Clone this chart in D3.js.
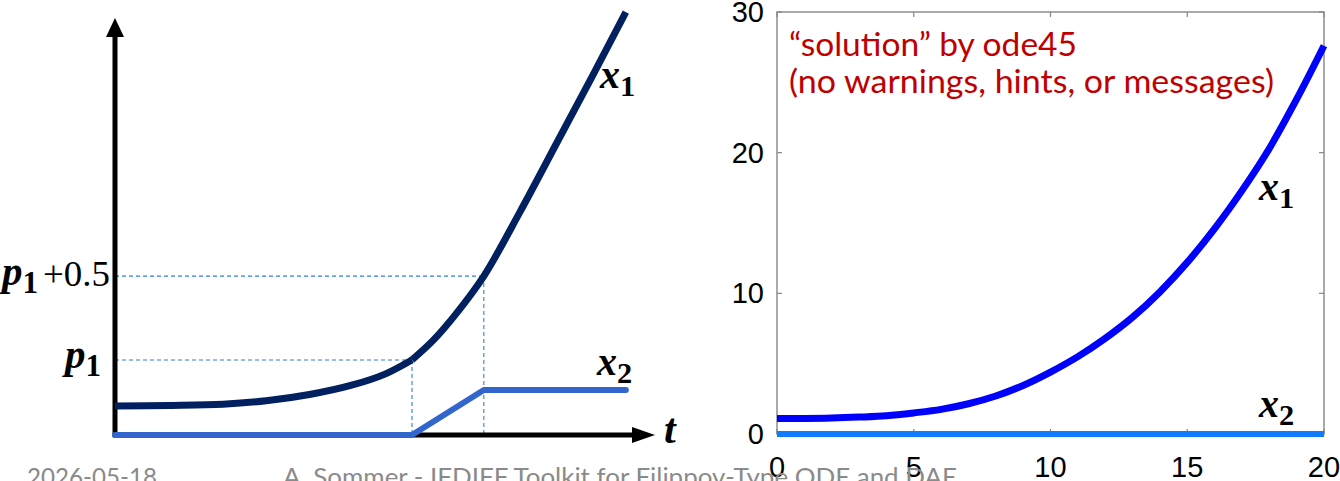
<!DOCTYPE html>
<html>
<head>
<meta charset="utf-8">
<script src="https://cdn.jsdelivr.net/npm/d3@7"></script>
<style>
  html, body { margin: 0; padding: 0; background: #fff; }
  svg { display: block; }
</style>
</head>
<body>
<svg id="chart" width="1340" height="481"></svg>
<script>
// ---- Left panel: schematic trajectory (abstract units, 0..100 on both axes) ----
const schemT1 = [0, 10, 20, 28, 36, 44, 50, 55];              // before kink
const schemX1a = [6.95, 7.1, 7.4, 8.2, 9.7, 12.0, 14.6, 18];
const schemT2 = [55, 59, 63, 68.3, 75, 82, 88.5, 94.6];       // after kink
const schemX1b = [18, 22.8, 28.8, 38.1, 53.5, 70.5, 86.3, 101.4];
const schemT3 = [0, 55, 68.3, 94.6];
const schemX2 = [0, 0, 10.8, 10.8];
const levelP1 = 18;        // p1
const levelP1half = 38.1;  // p1 + 0.5
const kinkA = 55, kinkB = 68.3;

// ---- Right panel: ode45 output ----
const odeT = [0,1,2,3,4,5,6,7,8,9,10,11,12,13,14,15,16,17,18,19,20];
const odeX1 = [1.1,1.1,1.13,1.2,1.3,1.5,1.75,2.15,2.7,3.45,4.4,5.5,6.8,8.3,10.1,12.2,14.6,17.3,20.3,23.8,27.6];
const odeX2 = [0,0,0,0,0,0,0,0,0,0,0,0,0,0,0,0,0,0,0,0,0];
const xTicks = [0, 5, 10, 15, 20];
const yTicks = [0, 10, 20, 30];

const svg = d3.select("#chart");

// ================= LEFT PANEL =================
const lx = d3.scaleLinear().domain([0, 100]).range([115, 655]);
const ly = d3.scaleLinear().domain([0, 100]).range([435, 18]);
const L = svg.append("g");

// dashed guide lines
const dashC = "#2f7fd6";
const guides = [
  [[0, levelP1], [kinkA, levelP1]],
  [[kinkA, levelP1], [kinkA, 0]],
  [[0, levelP1half], [kinkB, levelP1half]],
  [[kinkB, levelP1half], [kinkB, 0]]
];
guides.forEach(g => {
  L.append("line")
    .attr("x1", lx(g[0][0])).attr("y1", ly(g[0][1]))
    .attr("x2", lx(g[1][0])).attr("y2", ly(g[1][1]))
    .attr("stroke", dashC).attr("stroke-width", 1.1)
    .attr("stroke-dasharray", "4,3");
});

// axes with arrowheads
L.append("line").attr("x1", lx(0)).attr("y1", ly(0) + 2).attr("x2", lx(0)).attr("y2", ly(100) + 16)
  .attr("stroke", "#000").attr("stroke-width", 5);
L.append("line").attr("x1", lx(0) - 2).attr("y1", ly(0)).attr("x2", lx(100) - 20).attr("y2", ly(0))
  .attr("stroke", "#000").attr("stroke-width", 5);
L.append("path")
  .attr("d", `M${lx(0)},${ly(100)} L${lx(0) - 9},${ly(100) + 19} L${lx(0) + 9},${ly(100) + 19} Z`)
  .attr("fill", "#000");
L.append("path")
  .attr("d", `M${lx(100)},${ly(0)} L${lx(100) - 23},${ly(0) - 8} L${lx(100) - 23},${ly(0) + 8} Z`)
  .attr("fill", "#000");

// x2 schematic
const linL = d3.line().x(d => lx(d[0])).y(d => ly(d[1]));
L.append("path")
  .datum(d3.zip(schemT3, schemX2))
  .attr("d", linL)
  .attr("fill", "none").attr("stroke", "#3366cc").attr("stroke-width", 6)
  .attr("stroke-linecap", "round").attr("stroke-linejoin", "round");

// x1 schematic (smooth pieces joined at the kink)
const smoothL = d3.line().x(d => lx(d[0])).y(d => ly(d[1])).curve(d3.curveCatmullRom.alpha(0.5));
[[schemT1, schemX1a], [schemT2, schemX1b]].forEach(([t, v]) => {
  L.append("path")
    .datum(d3.zip(t, v))
    .attr("d", smoothL)
    .attr("fill", "none").attr("stroke", "#002060").attr("stroke-width", 7)
    .attr("stroke-linejoin", "round");
});

// math labels: bold italic symbol with a subscript digit
const mathFont = "'Liberation Serif', 'DejaVu Serif', serif";
function mathLabel(g, x, y, base, sub, size) {
  const t = g.append("text").attr("x", x).attr("y", y)
    .attr("font-family", mathFont).attr("font-size", size).attr("fill", "#000");
  t.append("tspan").text(base).attr("font-style", "italic").attr("font-weight", "bold");
  if (sub) t.append("tspan").text(sub).attr("font-weight", "bold")
    .attr("font-size", size * 0.76).attr("dy", size * 0.2);
  return t;
}
mathLabel(L, 600, 88, "x", "1", 40);
mathLabel(L, 597, 375, "x", "2", 40);
mathLabel(L, 664, 443, "t", null, 42);
mathLabel(L, 65, 368, "p", "1", 41);
mathLabel(L, 2, 285, "p", "1", 41);
L.append("text").attr("x", 43).attr("y", 286)
  .attr("font-family", mathFont).attr("font-size", 35)
  .attr("textLength", 67).attr("lengthAdjust", "spacingAndGlyphs")
  .attr("fill", "#000").text("+0.5");

// ================= RIGHT PANEL =================
const rx = d3.scaleLinear().domain([0, 20]).range([777, 1324]);
const ry = d3.scaleLinear().domain([0, 30]).range([434, 12]);
const R = svg.append("g");
const frameC = "#868686";

R.append("rect").attr("x", rx(0)).attr("y", ry(30))
  .attr("width", rx(20) - rx(0)).attr("height", ry(0) - ry(30))
  .attr("fill", "none").attr("stroke", frameC).attr("stroke-width", 1.4);

const tickLen = 5;
xTicks.forEach(v => {
  R.append("line").attr("x1", rx(v)).attr("x2", rx(v)).attr("y1", ry(0)).attr("y2", ry(0) - tickLen)
    .attr("stroke", frameC).attr("stroke-width", 1.2);
  R.append("line").attr("x1", rx(v)).attr("x2", rx(v)).attr("y1", ry(30)).attr("y2", ry(30) + tickLen)
    .attr("stroke", frameC).attr("stroke-width", 1.2);
});
yTicks.forEach(v => {
  R.append("line").attr("x1", rx(0)).attr("x2", rx(0) + tickLen).attr("y1", ry(v)).attr("y2", ry(v))
    .attr("stroke", frameC).attr("stroke-width", 1.2);
  R.append("line").attr("x1", rx(20)).attr("x2", rx(20) - tickLen).attr("y1", ry(v)).attr("y2", ry(v))
    .attr("stroke", frameC).attr("stroke-width", 1.2);
});

const tickFont = "'Liberation Sans', Arial, sans-serif";
R.selectAll(".ylab").data(yTicks).enter().append("text")
  .attr("x", rx(0) - 13).attr("y", d => ry(d) + 10)
  .attr("text-anchor", "end").attr("font-family", tickFont).attr("font-size", 29)
  .attr("fill", "#000").text(d => d);
R.selectAll(".xlab").data(xTicks).enter().append("text")
  .attr("x", d => rx(d)).attr("y", ry(0) + 43)
  .attr("text-anchor", "middle").attr("font-family", tickFont).attr("font-size", 29)
  .attr("fill", "#000").text(d => d);

// ode45 curves
const lineR = d3.line().x(d => rx(d[0])).y(d => ry(d[1])).curve(d3.curveCatmullRom.alpha(0.5));
R.append("path").datum(d3.zip(odeT, odeX2)).attr("d", lineR)
  .attr("fill", "none").attr("stroke", "#0f7bff").attr("stroke-width", 6);
R.append("path").datum(d3.zip(odeT, odeX1)).attr("d", lineR)
  .attr("fill", "none").attr("stroke", "#0000ff").attr("stroke-width", 7);

mathLabel(R, 1259, 200, "x", "1", 40);
mathLabel(R, 1259, 417, "x", "2", 40);

// annotation
const noteFont = "Lato, 'Open Sans', sans-serif";
R.append("text").attr("x", 789).attr("y", 56).attr("font-family", noteFont).attr("font-size", 32)
  .attr("textLength", 288).attr("lengthAdjust", "spacingAndGlyphs")
  .attr("fill", "#c00000").text("\u201Csolution\u201D by ode45");
R.append("text").attr("x", 789).attr("y", 93).attr("font-family", noteFont).attr("font-size", 32)
  .attr("textLength", 485).attr("lengthAdjust", "spacingAndGlyphs")
  .attr("fill", "#c00000").text("(no warnings, hints, or messages)");

// ================= FOOTER =================
const footFont = "Lato, 'Open Sans', sans-serif";
svg.append("text").attr("x", 27).attr("y", 486).attr("font-family", footFont).attr("font-size", 25)
  .attr("textLength", 130).attr("lengthAdjust", "spacingAndGlyphs")
  .attr("fill", "#8a8a8a").text("2026-05-18");
svg.append("text").attr("x", 283).attr("y", 486).attr("font-family", footFont).attr("font-size", 25)
  .attr("textLength", 674).attr("lengthAdjust", "spacingAndGlyphs")
  .attr("fill", "#8a8a8a").text("A. Sommer - IFDIFF Toolkit for Filippov-Type ODE and DAE");
</script>
</body>
</html>
